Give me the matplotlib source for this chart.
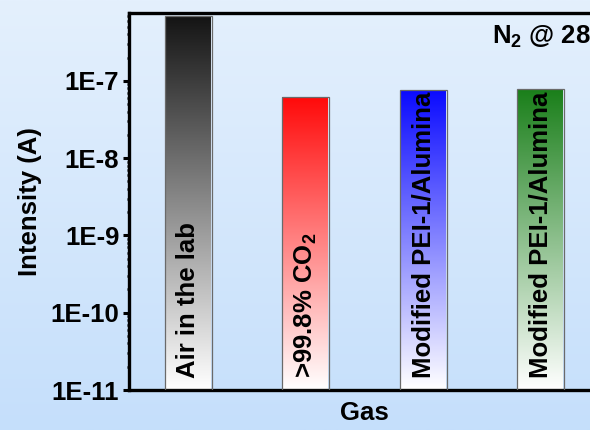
import numpy as np
import matplotlib
matplotlib.use("Agg")
import matplotlib.pyplot as plt
from matplotlib.colors import LinearSegmentedColormap
from matplotlib.transforms import blended_transform_factory
from matplotlib.ticker import FuncFormatter, LogLocator, NullFormatter

plt.rcParams["font.family"] = ["Liberation Sans", "DejaVu Sans"]
plt.rcParams["font.weight"] = "bold"
plt.rcParams["mathtext.fontset"] = "custom"
plt.rcParams["mathtext.rm"] = "Liberation Sans:bold"
plt.rcParams["mathtext.bf"] = "Liberation Sans:bold"
plt.rcParams["mathtext.it"] = "Liberation Sans:bold"

# gas samples and measured ion current
gases = ["Air in the lab", r">99.8% CO$_2$", "Modified PEI-1/Alumina", "Modified PEI-1/Alumina"]
intensity = [6.9e-7, 6.2e-8, 7.6e-8, 7.8e-8]
bar_colors = ["#141414", "#ff0a0a", "#0a0aff", "#1a7f1a"]

fig = plt.figure(figsize=(5.9, 4.3), dpi=100)

# light blue background gradient
bg = fig.add_axes([0, 0, 1, 1], zorder=-10)
bg_cmap = LinearSegmentedColormap.from_list("bg", ["#c5dffb", "#e4f0fd"])
bg.imshow(np.linspace(0, 1, 256).reshape(-1, 1), aspect="auto", cmap=bg_cmap,
          origin="lower", extent=[0, 1, 0, 1])
bg.axis("off")

ax = fig.add_axes([0.2186, 0.093, 0.798, 0.877])
ax.patch.set_alpha(0)
ax.set_yscale("log")
ax.set_ylim(1e-11, 7.6e-7)
ax.set_xlim(-0.506, 3.502)

x = np.arange(len(gases))
width = 0.4
bars = ax.bar(x, intensity, width=width, bottom=1e-11, facecolor="none",
              edgecolor="#6a6a6a", linewidth=0.9, zorder=3)

trans = blended_transform_factory(ax.transData, ax.transAxes)
grad = np.linspace(0, 1, 256).reshape(-1, 1)
for xi, val, col in zip(x, intensity, bar_colors):
    # top of the bar in axes fraction, so the fade is even on the log axis
    top = ax.transAxes.inverted().transform(ax.transData.transform((xi, val)))[1]
    cmap = LinearSegmentedColormap.from_list("fade", ["#ffffff", col])
    ax.imshow(grad, aspect="auto", cmap=cmap, origin="lower", transform=trans,
              extent=[xi - width / 2, xi + width / 2, 0, top], zorder=2)

for xi, name in zip(x, gases):
    ax.text(xi, 0.032, name, transform=trans, rotation=90, ha="center", va="bottom",
            fontsize=18.5, fontweight="bold", zorder=4)

ax.text(0.771, 0.918, r"N$_2$ @ 28 °C", transform=ax.transAxes, ha="left",
        va="baseline", fontsize=18.5, fontweight="bold")

ax.yaxis.set_major_locator(LogLocator(base=10, numticks=10))
ax.yaxis.set_minor_locator(LogLocator(base=10, subs=np.arange(2, 10), numticks=10))
ax.yaxis.set_major_formatter(FuncFormatter(lambda v, p: f"1E{int(round(np.log10(v)))}"))
ax.yaxis.set_minor_formatter(NullFormatter())
ax.tick_params(axis="y", which="major", direction="out", length=4, width=2.2,
               labelsize=18.5, pad=3)
ax.tick_params(axis="y", which="minor", direction="out", length=1.5, width=1.8)
ax.tick_params(axis="x", bottom=False, labelbottom=False)
for lbl in ax.get_yticklabels():
    lbl.set_fontweight("bold")

for side in ["left", "bottom", "top", "right"]:
    ax.spines[side].set_linewidth(2.4)

ax.set_ylabel("Intensity (A)", fontsize=18.5, fontweight="bold", labelpad=6)
ax.set_xlabel("Gas", fontsize=18.5, fontweight="bold", labelpad=8)

fig.savefig("out.png", dpi=100)
